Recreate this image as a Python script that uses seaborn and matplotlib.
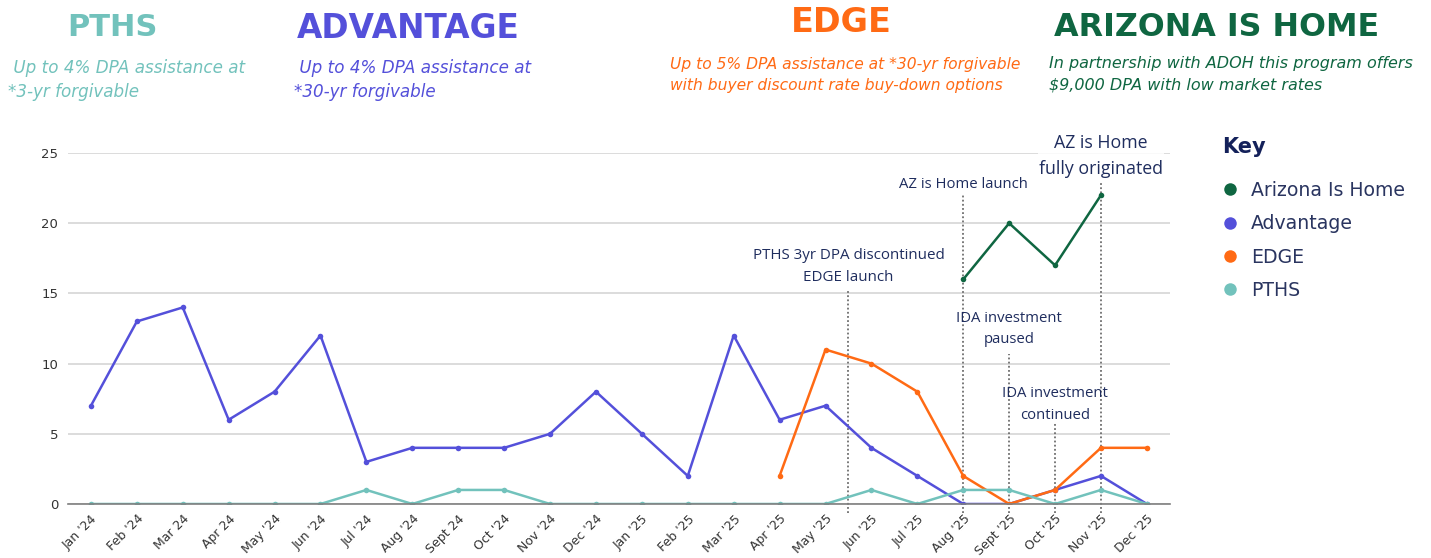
import numpy as np
import pandas as pd
import matplotlib.pyplot as plt
from matplotlib.lines import Line2D
import seaborn as sns

MONTHS = ["Jan '24", "Feb '24", "Mar 24", "Apr 24", "May '24", "Jun '24", "Jul '24", "Aug '24",
          "Sept 24", "Oct '24", "Nov '24", "Dec '24", "Jan '25", "Feb '25", "Mar '25", "Apr '25",
          "May '25", "Jun '25", "Jul '25", "Aug '25", "Sept '25", "Oct '25", "Nov '25", "Dec '25"]

nan = np.nan
advantage = [7, 13, 14, 6, 8, 12, 3, 4, 4, 4, 5, 8, 5, 2, 12, 6, 7, 4, 2, 0, 0, 1, 2, 0]
pths = [0, 0, 0, 0, 0, 0, 1, 0, 1, 1, 0, 0, 0, 0, 0, 0, 0, 1, 0, 1, 1, 0, 1, 0]
edge = [nan] * 15 + [2, 11, 10, 8, 2, 0, 1, 4, 4]
az_home = [nan] * 19 + [16, 20, 17, 22, nan]

SERIES = ["Arizona Is Home", "Advantage", "EDGE", "PTHS"]
COLORS = {"Arizona Is Home": "#0F6641", "Advantage": "#5450DA",
          "EDGE": "#FF6A14", "PTHS": "#72C2BC"}

# event markers: x position, top of dotted line, label, label y, label size
EVENTS_X = [16.5, 19, 20, 21, 22]
EVENTS_TOP = [15.2, 22.1, 10.7, 5.8, 22.9]
EVENTS_TEXT = ["PTHS 3yr DPA discontinued\nEDGE launch", "AZ is Home launch",
               "IDA investment\npaused", "IDA investment\ncontinued",
               "AZ is Home\nfully originated"]
EVENTS_TEXT_Y = [16.9, 22.75, 12.45, 7.1, 24.8]
EVENTS_SIZE = [10.9, 10.7, 10.7, 10.7, 12.8]

df = pd.DataFrame({"month": np.arange(len(MONTHS)),
                   "Arizona Is Home": az_home, "Advantage": advantage,
                   "EDGE": edge, "PTHS": pths})
long = df.melt(id_vars="month", var_name="program", value_name="count").dropna()

sns.set_theme(style="white")
plt.rcParams['font.family'] = ['DejaVu Sans']

fig = plt.figure(figsize=(14.31, 5.58), dpi=100)
ax = fig.add_axes([0.0475, 0.0968, 0.770, 0.629])

sns.lineplot(data=long, x="month", y="count", hue="program", hue_order=SERIES,
             palette=COLORS, marker="o", markersize=4, markeredgewidth=0,
             linewidth=1.8, legend=False, ax=ax)

ax.set_xlim(-0.5, 23.5)
ax.set_ylim(0, 25)
ax.set_yticks(range(0, 26, 5))
ax.set_xticks(df["month"])
ax.set_xticklabels(MONTHS, rotation=45, ha="right", rotation_mode="anchor",
                   fontsize=9, color="#333333")
ax.tick_params(axis="y", labelsize=9.5, labelcolor="#333333", length=0, pad=7)
ax.tick_params(axis="x", length=0, pad=6)
ax.yaxis.grid(True, color="#D9D9D9", linewidth=1.3)
ax.set_axisbelow(True)
for s in ["top", "right", "left"]:
    ax.spines[s].set_visible(False)
ax.spines["bottom"].set_color("#7F7F7F")
ax.spines["bottom"].set_linewidth(1.2)
ax.set_xlabel("")
ax.set_ylabel("")

navy = "#1F2D5E"
ax.vlines(EVENTS_X, -0.65, EVENTS_TOP, colors="#6E6E6E", linestyles=(0, (1, 1.3)),
          linewidth=1.3, clip_on=False, zorder=1)
for i, (x, y, t, fs) in enumerate(zip(EVENTS_X, EVENTS_TEXT_Y, EVENTS_TEXT, EVENTS_SIZE)):
    txt = ax.text(x, y, t, ha="center", va="center", fontsize=fs, color=navy,
                  family="Open Sans", linespacing=1.6, clip_on=False)
    if i == len(EVENTS_X) - 1:
        txt.set_bbox(dict(facecolor="white", edgecolor="none", pad=1, alpha=0.85))

# key
W, H = 1431, 558
fig.text(1222 / W, 1 - 147 / H, "Key", ha="left", va="center", fontsize=15,
         fontweight="bold", color="#14215A")
handles = [Line2D([], [], marker="o", linestyle="", markersize=9,
                  markerfacecolor=COLORS[s], markeredgewidth=0) for s in SERIES]
leg = fig.legend(handles, SERIES, loc="upper left", bbox_to_anchor=(0.8424, 1 - 164 / H),
                 frameon=False, fontsize=13.6, labelspacing=0.76,
                 handletextpad=0.7, handlelength=0.8)
for t in leg.get_texts():
    t.set_color("#2A3560")

# program headers
HEADERS = ["PTHS", "ADVANTAGE", "EDGE", "ARIZONA IS HOME"]
HEAD_X = [112, 408, 841, 1217]
HEAD_Y = [28, 28, 22, 27]
HEAD_SIZE = [22, 23.6, 24, 22.9]
HEAD_COLORS = ["#72C2BC", "#5450DA", "#FF6A14", "#0F6641"]
SUBTEXT = [" Up to 4% DPA assistance at\n*3-yr forgivable",
           " Up to 4% DPA assistance at\n*30-yr forgivable",
           "Up to 5% DPA assistance at *30-yr forgivable\nwith buyer discount rate buy-down options",
           "In partnership with ADOH this program offers\n$9,000 DPA with low market rates"]
SUB_X = [8, 294, 670, 1049]
SUB_Y = [80, 80, 75, 74]
SUB_SIZE = [12.1, 12.1, 11.2, 11.5]
SUB_SPACING = [1.4, 1.4, 1.55, 1.5]
for t, x, y, c, fs in zip(HEADERS, HEAD_X, HEAD_Y, HEAD_COLORS, HEAD_SIZE):
    fig.text(x / W, 1 - y / H, t, ha="center", va="center", fontsize=fs,
             fontweight="bold", color=c)
for t, x, y, c, fs, ls in zip(SUBTEXT, SUB_X, SUB_Y, HEAD_COLORS, SUB_SIZE, SUB_SPACING):
    fig.text(x / W, 1 - y / H, t, ha="left", va="center", fontsize=fs,
             style="italic", color=c, linespacing=ls)

plt.savefig("out.png", dpi=100)
